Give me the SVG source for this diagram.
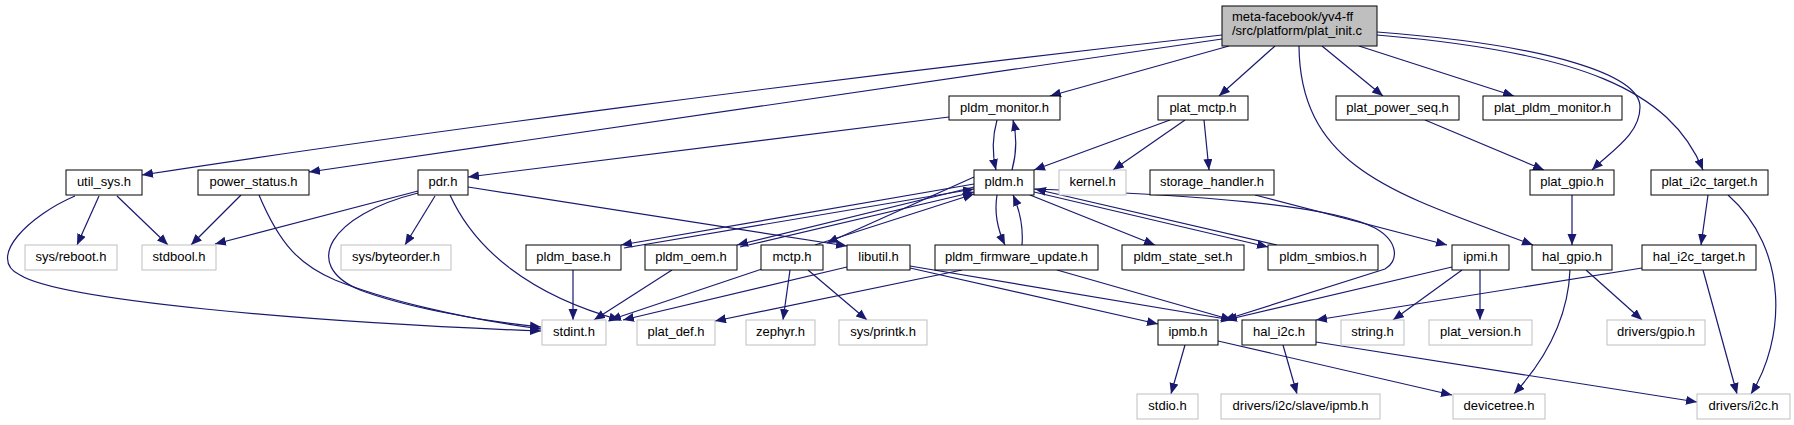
<svg xmlns="http://www.w3.org/2000/svg" width="1794" height="425" viewBox="0 0 1794 425">
<defs>
<marker id="ah" markerUnits="userSpaceOnUse" markerWidth="12" markerHeight="10" refX="11" refY="4.5" orient="auto">
<path d="M0,0 L11,4.5 L0,9 z" fill="#191970"/>
</marker>
<style>
.e{fill:none;stroke:#191970;stroke-width:1.2;marker-end:url(#ah)}
.n rect{fill:#ffffff;stroke:#000000;stroke-width:1}
.x rect{fill:#ffffff;stroke:#bfbfbf;stroke-width:1}
.r rect{fill:#bfbfbf;stroke:#000000;stroke-width:1}
text{font-family:"Liberation Sans",Arial,sans-serif;font-size:13px;fill:#000000}
.c{text-anchor:middle}
</style>
</defs>
<rect width="1794" height="425" fill="#ffffff"/>
<g id="edges">
<path class="e" d="M1222,35 C800,82 400,135 142,175"/>
<path class="e" d="M1222,39 L309,172"/>
<path class="e" d="M1229,46 L1050,96"/>
<path class="e" d="M1275,46 L1219,96"/>
<path class="e" d="M1322,46 L1383,96"/>
<path class="e" d="M1359,46 L1514,96"/>
<path class="e" d="M1377,32 C1550,45 1640,75 1640,107 C1640,135 1610,152 1592,170"/>
<path class="e" d="M1377,35 C1580,52 1670,90 1703,170"/>
<path class="e" d="M1299,46 C1300,170 1400,195 1533,245"/>
<path class="e" d="M949,117 L468,177"/>
<path class="e" d="M997,120 Q990,145 996,170"/>
<path class="e" d="M1012,170 Q1019,145 1013,120"/>
<path class="e" d="M1170,120 L1034,170"/>
<path class="e" d="M1185,120 L1113,170"/>
<path class="e" d="M1204,120 L1209,170"/>
<path class="e" d="M1425,120 L1544,170"/>
<path class="e" d="M1572,195 L1572,245"/>
<path class="e" d="M1708,195 L1701,245"/>
<path class="e" d="M1728,195 C1790,250 1785,340 1751,394"/>
<path class="e" d="M1642,268 L1316,320"/>
<path class="e" d="M1703,270 L1737,394"/>
<path class="e" d="M1586,270 L1642,320"/>
<path class="e" d="M1570,270 C1568,320 1545,360 1514,394"/>
<path class="e" d="M1255,195 L1447,245"/>
<path class="e" d="M1452,267 L1226,320"/>
<path class="e" d="M1034,189 C1200,195 1330,205 1375,228 C1400,242 1398,262 1385,269 L1224,320"/>
<path class="e" d="M1462,270 L1393,320"/>
<path class="e" d="M1480,270 L1480,320"/>
<path class="e" d="M1283,345 L1297,394"/>
<path class="e" d="M1316,342 L1697,402"/>
<path class="e" d="M1218,341 L1452,395"/>
<path class="e" d="M1185,345 L1171,394"/>
<path class="e" d="M1030,195 L1155,245"/>
<path class="e" d="M1034,192 L1268,247"/>
<path class="e" d="M1277,245 L1035,189"/>
<path class="e" d="M997,195 Q993,220 1005,245"/>
<path class="e" d="M1022,245 Q1024,220 1013,195"/>
<path class="e" d="M974,184 L621,245"/>
<path class="e" d="M624,248 L974,189"/>
<path class="e" d="M974,187 L737,245"/>
<path class="e" d="M740,247 L974,192"/>
<path class="e" d="M815,245 L974,194"/>
<path class="e" d="M974,177 L827,243"/>
<path class="e" d="M468,187 L847,246"/>
<path class="e" d="M435,196 L405,245"/>
<path class="e" d="M418,191 L215,244"/>
<path class="e" d="M418,193 C330,215 300,265 360,290 C400,305 470,320 541,327"/>
<path class="e" d="M450,195 C475,250 530,295 620,320"/>
<path class="e" d="M99,196 L77,245"/>
<path class="e" d="M117,196 L168,245"/>
<path class="e" d="M75,196 C30,215 -15,258 20,275 C60,300 300,322 541,331"/>
<path class="e" d="M241,195 L191,245"/>
<path class="e" d="M259,195 C280,245 300,265 335,280 C385,300 460,318 541,329"/>
<path class="e" d="M573,270 L573,320"/>
<path class="e" d="M672,270 L594,320"/>
<path class="e" d="M762,269 L610,320"/>
<path class="e" d="M790,270 L783,320"/>
<path class="e" d="M808,270 L867,320"/>
<path class="e" d="M847,267 L623,320"/>
<path class="e" d="M910,268 L1158,324"/>
<path class="e" d="M910,266 L1232,320"/>
<path class="e" d="M962,270 L715,321"/>
<path class="e" d="M1057,270 L1232,320"/>
</g>
<g id="node-plat_init" class="r"><rect x="1222" y="6" width="155" height="40"/><text x="1232" y="21">meta-facebook/yv4-ff</text><text x="1232" y="35">/src/platform/plat_init.c</text></g>
<g id="node-pldm_monitor" class="n"><rect x="949" y="96" width="111" height="24"/><text class="c" x="1004.5" y="112">pldm_monitor.h</text></g>
<g id="node-plat_mctp" class="n"><rect x="1158" y="96" width="90" height="24"/><text class="c" x="1203" y="112">plat_mctp.h</text></g>
<g id="node-plat_power_seq" class="n"><rect x="1336" y="96" width="123" height="24"/><text class="c" x="1397.5" y="112">plat_power_seq.h</text></g>
<g id="node-plat_pldm_monitor" class="n"><rect x="1483" y="96" width="139" height="24"/><text class="c" x="1552.5" y="112">plat_pldm_monitor.h</text></g>
<g id="node-util_sys" class="n"><rect x="66" y="170" width="76" height="25"/><text class="c" x="104" y="186">util_sys.h</text></g>
<g id="node-power_status" class="n"><rect x="198" y="170" width="111" height="25"/><text class="c" x="253.5" y="186">power_status.h</text></g>
<g id="node-pdr" class="n"><rect x="418" y="170" width="50" height="25"/><text class="c" x="443" y="186">pdr.h</text></g>
<g id="node-pldm" class="n"><rect x="974" y="170" width="60" height="25"/><text class="c" x="1004" y="186">pldm.h</text></g>
<g id="node-kernel" class="x"><rect x="1059" y="170" width="67" height="25"/><text class="c" x="1092.5" y="186">kernel.h</text></g>
<g id="node-storage_handler" class="n"><rect x="1150" y="170" width="124" height="25"/><text class="c" x="1212" y="186">storage_handler.h</text></g>
<g id="node-plat_gpio" class="n"><rect x="1530" y="170" width="84" height="25"/><text class="c" x="1572" y="186">plat_gpio.h</text></g>
<g id="node-plat_i2c_target" class="n"><rect x="1651" y="170" width="117" height="25"/><text class="c" x="1709.5" y="186">plat_i2c_target.h</text></g>
<g id="node-sys_reboot" class="x"><rect x="25" y="245" width="92" height="25"/><text class="c" x="71" y="261">sys/reboot.h</text></g>
<g id="node-stdbool" class="x"><rect x="142" y="245" width="74" height="25"/><text class="c" x="179" y="261">stdbool.h</text></g>
<g id="node-sys_byteorder" class="x"><rect x="341" y="245" width="110" height="25"/><text class="c" x="396" y="261">sys/byteorder.h</text></g>
<g id="node-pldm_base" class="n"><rect x="526" y="245" width="95" height="25"/><text class="c" x="573.5" y="261">pldm_base.h</text></g>
<g id="node-pldm_oem" class="n"><rect x="645" y="245" width="92" height="25"/><text class="c" x="691" y="261">pldm_oem.h</text></g>
<g id="node-mctp" class="n"><rect x="761" y="245" width="62" height="25"/><text class="c" x="792" y="261">mctp.h</text></g>
<g id="node-libutil" class="n"><rect x="847" y="245" width="63" height="25"/><text class="c" x="878.5" y="261">libutil.h</text></g>
<g id="node-pldm_firmware_update" class="n"><rect x="935" y="245" width="163" height="25"/><text class="c" x="1016.5" y="261">pldm_firmware_update.h</text></g>
<g id="node-pldm_state_set" class="n"><rect x="1122" y="245" width="122" height="25"/><text class="c" x="1183" y="261">pldm_state_set.h</text></g>
<g id="node-pldm_smbios" class="n"><rect x="1268" y="245" width="110" height="25"/><text class="c" x="1323" y="261">pldm_smbios.h</text></g>
<g id="node-ipmi" class="n"><rect x="1452" y="245" width="57" height="25"/><text class="c" x="1480.5" y="261">ipmi.h</text></g>
<g id="node-hal_gpio" class="n"><rect x="1532" y="245" width="80" height="25"/><text class="c" x="1572" y="261">hal_gpio.h</text></g>
<g id="node-hal_i2c_target" class="n"><rect x="1642" y="245" width="114" height="25"/><text class="c" x="1699" y="261">hal_i2c_target.h</text></g>
<g id="node-stdint" class="x"><rect x="542" y="320" width="64" height="25"/><text class="c" x="574" y="336">stdint.h</text></g>
<g id="node-plat_def" class="x"><rect x="637" y="320" width="78" height="25"/><text class="c" x="676" y="336">plat_def.h</text></g>
<g id="node-zephyr" class="x"><rect x="746" y="320" width="69" height="25"/><text class="c" x="780.5" y="336">zephyr.h</text></g>
<g id="node-sys_printk" class="x"><rect x="839" y="320" width="88" height="25"/><text class="c" x="883" y="336">sys/printk.h</text></g>
<g id="node-ipmb" class="n"><rect x="1158" y="320" width="60" height="25"/><text class="c" x="1188" y="336">ipmb.h</text></g>
<g id="node-hal_i2c" class="n"><rect x="1242" y="320" width="74" height="25"/><text class="c" x="1279" y="336">hal_i2c.h</text></g>
<g id="node-string" class="x"><rect x="1341" y="320" width="63" height="25"/><text class="c" x="1372.5" y="336">string.h</text></g>
<g id="node-plat_version" class="x"><rect x="1429" y="320" width="103" height="25"/><text class="c" x="1480.5" y="336">plat_version.h</text></g>
<g id="node-drivers_gpio" class="x"><rect x="1607" y="320" width="98" height="25"/><text class="c" x="1656" y="336">drivers/gpio.h</text></g>
<g id="node-stdio" class="x"><rect x="1137" y="394" width="61" height="25"/><text class="c" x="1167.5" y="410">stdio.h</text></g>
<g id="node-drivers_i2c_slave_ipmb" class="x"><rect x="1221" y="394" width="159" height="25"/><text class="c" x="1300.5" y="410">drivers/i2c/slave/ipmb.h</text></g>
<g id="node-devicetree" class="x"><rect x="1453" y="394" width="92" height="25"/><text class="c" x="1499" y="410">devicetree.h</text></g>
<g id="node-drivers_i2c" class="x"><rect x="1697" y="394" width="93" height="25"/><text class="c" x="1743.5" y="410">drivers/i2c.h</text></g>
</svg>
